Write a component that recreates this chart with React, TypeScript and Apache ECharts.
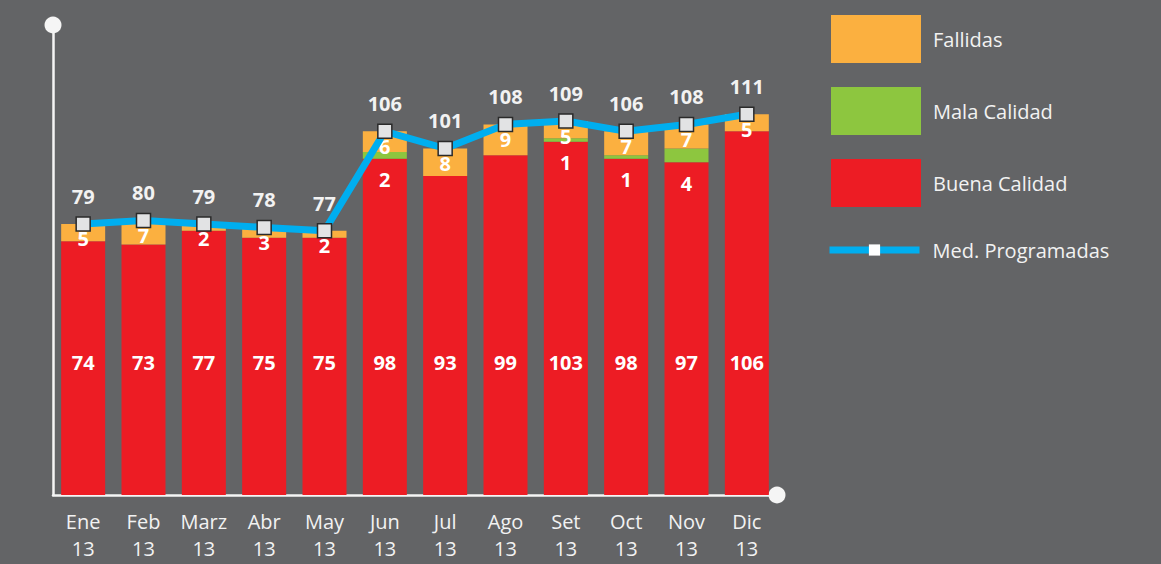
import React, { useEffect, useRef } from "react";
import * as echarts from "echarts";

const months = ["Ene\n13", "Feb\n13", "Marz\n13", "Abr\n13", "May\n13", "Jun\n13", "Jul\n13", "Ago\n13", "Set\n13", "Oct\n13", "Nov\n13", "Dic\n13"];
const buena = [74, 73, 77, 75, 75, 98, 93, 99, 103, 98, 97, 106];
const mala = [0, 0, 0, 0, 0, 2, 0, 0, 1, 1, 4, 0];
const fallidas = [5, 7, 2, 3, 2, 6, 8, 9, 5, 7, 7, 5];
const programadas = [79, 80, 79, 78, 77, 106, 101, 108, 109, 106, 108, 111];

const FONT = "'Open Sans', 'Noto Sans', sans-serif";
const TXT = "#f2f2f2";

export default function App() {
  const ref = useRef<HTMLDivElement>(null);
  useEffect(() => {
    if (!ref.current) return;
    const chart = echarts.init(ref.current, null, { renderer: "svg" });
    const barLabel = {
      show: true,
      color: "#ffffff",
      fontFamily: FONT,
      fontWeight: "bold" as const,
      fontSize: 20,
      formatter: (p: any) => (p.value ? String(p.value) : ""),
    };
    chart.setOption({
      animation: false,
      backgroundColor: "#636466",
      textStyle: { fontFamily: FONT },
      grid: { left: 53, right: 384, top: 25, bottom: 69 },
      legend: [
        {
          orient: "vertical",
          left: 826,
          top: 10,
          itemWidth: 90,
          itemHeight: 48,
          itemGap: 24,
          icon: "rect",
          data: ["Fallidas", "Mala Calidad", "Buena Calidad"],
          textStyle: { color: TXT, fontSize: 20, fontFamily: FONT, padding: [20, 0, 0, 7] },
          selectedMode: false,
        },
        {
          orient: "vertical",
          left: 821,
          top: 235,
          itemWidth: 90,
          itemHeight: 14,
          data: [
            {
              name: "Med. Programadas",
              itemStyle: { color: "#ffffff", borderWidth: 0 },
              lineStyle: { color: "#00AEEF", width: 7 },
            },
          ],
          textStyle: { color: TXT, fontSize: 20, fontFamily: FONT, padding: [0, 0, 0, 8] },
          selectedMode: false,
        },
      ],
      xAxis: {
        type: "category",
        data: months,
        axisLine: {
          show: true,
          symbol: ["none", "circle"],
          symbolSize: [17, 17],
          lineStyle: { color: "#f5f5f5", width: 2.5 },
        },
        axisTick: { show: false },
        axisLabel: { color: TXT, fontSize: 20, lineHeight: 27, margin: 13, fontFamily: FONT, interval: 0 },
      },
      yAxis: {
        type: "value",
        min: 0,
        max: 137,
        splitLine: { show: false },
        axisLabel: { show: false },
        axisTick: { show: false },
        axisLine: {
          show: true,
          symbol: ["none", "circle"],
          symbolSize: [17, 17],
          lineStyle: { color: "#f5f5f5", width: 2.5 },
        },
      },
      series: [
        {
          name: "Buena Calidad",
          type: "bar",
          stack: "t",
          barWidth: 44,
          data: buena,
          itemStyle: { color: "#ED1C24" },
          label: { ...barLabel, position: "insideBottom", distance: 123 },
        },
        {
          name: "Mala Calidad",
          type: "bar",
          stack: "t",
          data: mala,
          itemStyle: { color: "#8DC63F" },
          label: { ...barLabel, position: "bottom", distance: 11 },
        },
        {
          name: "Fallidas",
          type: "bar",
          stack: "t",
          data: fallidas,
          itemStyle: { color: "#FBB040" },
          label: { ...barLabel, position: "insideTop", distance: 5 },
        },
        {
          name: "Med. Programadas",
          type: "line",
          data: programadas,
          z: 5,
          symbol: "rect",
          symbolSize: 14,
          itemStyle: { color: "#e2e3e4", borderColor: "#2a2a2a", borderWidth: 1.5 },
          lineStyle: { color: "#00AEEF", width: 7 },
          label: {
            show: true,
            position: "top",
            distance: 10,
            color: TXT,
            fontFamily: FONT,
            fontWeight: "bold",
            fontSize: 20,
          },
        },
      ],
    });
    return () => chart.dispose();
  }, []);
  return <div ref={ref} style={{ position: "fixed", left: 0, top: 0, width: 1161, height: 564 }} />;
}
